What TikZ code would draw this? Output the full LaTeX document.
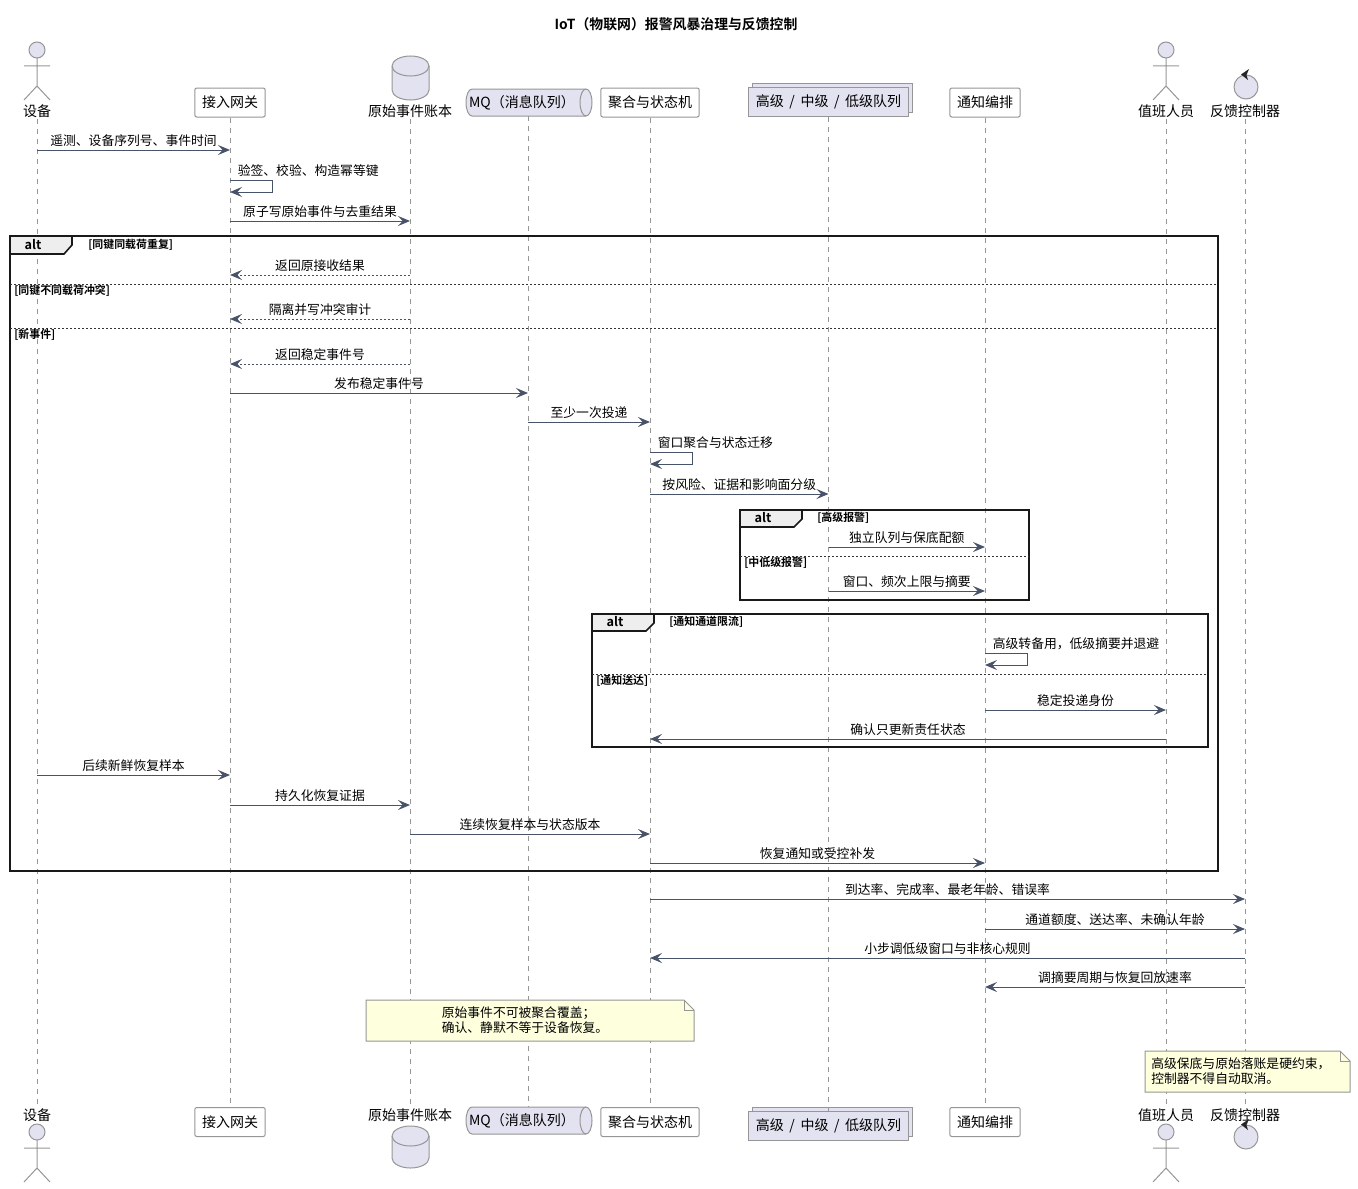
\documentclass[tikz,border=0pt]{standalone}
\usepackage{fontspec}
\setmainfont{Noto Sans CJK SC}[BoldFont={Noto Sans CJK SC Bold}]
\definecolor{partlav}{RGB}{226,226,240}
\definecolor{partline}{RGB}{150,150,150}
\definecolor{lifegray}{RGB}{150,150,150}
\definecolor{msgline}{RGB}{72,82,104}
\definecolor{tabgray}{RGB}{238,238,238}
\definecolor{notefill}{RGB}{254,255,221}
\usepackage{tikz}
\usetikzlibrary{shapes,arrows.meta,positioning,calc,shadows}
\newcommand{\partfont}{\fontsize{10.5}{12}\selectfont}
\newcommand{\msgfont}{\fontsize{9.6}{11.25}\selectfont}
\newcommand{\guardfont}{\bfseries\fontsize{8.2}{10}\selectfont}

\begin{document}
\begin{tikzpicture}[x=0.75pt,y=-0.75pt,
    boxpart/.style={draw=partline,fill=white,rounded corners=1.5pt,line width=0.75pt,
      minimum height=21.75pt,inner xsep=5.4pt,inner ysep=0pt,font=\partfont},
    actlabel/.style={inner sep=1pt,font=\partfont},
    actorst/.style={draw=partline,line width=0.75pt},
    lifelinest/.style={draw=lifegray,line width=0.6pt,dash pattern=on 3.75pt off 3.75pt},
    msg/.style={draw=msgline,line width=0.75pt,-{Stealth[length=9pt,width=7.5pt,inset=3.5pt]}},
    ret/.style={dash pattern=on 1.5pt off 1.5pt},
    lbl/.style={midway,above=1pt,inner sep=1pt,font=\msgfont,text=black},
    slbl/.style={anchor=south west,xshift=4.5pt,yshift=1pt,inner sep=1pt,font=\msgfont,text=black},
    altframe/.style={draw=black!90,line width=1.2pt},
    alttab/.style={draw=black!90,line width=1.2pt,fill=tabgray},
    alttxt/.style={inner sep=0pt,font=\bfseries\fontsize{9.5}{11}\selectfont},
    guard/.style={anchor=west,inner sep=0pt,font=\guardfont},
    altsep/.style={draw=black!80,line width=0.6pt,dash pattern=on 1.5pt off 1.5pt},
    note/.style={draw=partline,fill=notefill,line width=0.75pt},
    notetxt/.style={align=left,inner sep=0pt,font=\msgfont}
]
\useasboundingbox (0,0) rectangle (1358,1188);
\node[font=\bfseries\fontsize{10.4}{12}\selectfont] (title) at (676,24) {IoT（物联网）报警风暴治理与反馈控制};

% participants, top row
\node[actlabel] (devT) at (37,111) {设备};
\node[boxpart] (gwT) at (230,102.5) {接入网关};
\node[actlabel] (ledgerT) at (410,111) {原始事件账本};
\draw[partline,fill=partlav,line width=0.75pt] (392,66) -- (392,90)
  arc[start angle=180,end angle=360,x radius=13.875pt,y radius=7.5pt] -- (429,66)
  arc[start angle=0,end angle=180,x radius=13.875pt,y radius=7.5pt] -- cycle;
\draw[partline,line width=0.75pt] (392,66) arc[start angle=180,end angle=360,x radius=13.875pt,y radius=7.5pt];
\draw[partline,fill=partlav,line width=0.75pt] (472,89) -- (586,89)
  arc[start angle=90,end angle=-90,x radius=4.5pt,y radius=10.125pt] -- (472,116)
  arc[start angle=270,end angle=90,x radius=4.5pt,y radius=10.125pt] -- cycle;
\draw[partline,line width=0.75pt] (586,89) arc[start angle=90,end angle=270,x radius=4.5pt,y radius=10.125pt];
\node[inner sep=0pt,font=\partfont] (mqT) at (522,102.5) {MQ（消息队列）};
\coordinate (mqTl) at (528,116);
\node[boxpart] (aggT) at (650,102.5) {聚合与状态机};
\node[boxpart,fill=partlav,rounded corners=0pt,minimum width=119pt,
  copy shadow={shadow xshift=3pt,shadow yshift=3pt}] (queT) at (828.5,102)
  {高级\hspace{0.4em}/\hspace{0.4em}中级\hspace{0.4em}/\hspace{0.4em}低级队列};
\node[boxpart] (notifT) at (985,102.5) {通知编排};
\node[actlabel] (oncallT) at (1166,111) {值班人员};
\node[actlabel] (ctrlT) at (1245,111) {反馈控制器};

% participants, bottom row
\node[actlabel] (devB) at (37,1115) {设备};
\node[boxpart] (gwB) at (230,1122) {接入网关};
\node[actlabel] (ledgerB) at (410,1115) {原始事件账本};
\draw[partline,fill=partlav,line width=0.75pt] (392,1136) -- (392,1158)
  arc[start angle=180,end angle=360,x radius=13.875pt,y radius=7.5pt] -- (429,1136)
  arc[start angle=0,end angle=180,x radius=13.875pt,y radius=7.5pt] -- cycle;
\draw[partline,line width=0.75pt] (392,1136) arc[start angle=180,end angle=360,x radius=13.875pt,y radius=7.5pt];
\draw[partline,fill=partlav,line width=0.75pt] (472,1107) -- (586,1107)
  arc[start angle=90,end angle=-90,x radius=4.5pt,y radius=10.125pt] -- (472,1134)
  arc[start angle=270,end angle=90,x radius=4.5pt,y radius=10.125pt] -- cycle;
\draw[partline,line width=0.75pt] (586,1107) arc[start angle=90,end angle=270,x radius=4.5pt,y radius=10.125pt];
\node[inner sep=0pt,font=\partfont] (mqB) at (522,1120.5) {MQ（消息队列）};
\coordinate (mqBl) at (528,1107);
\node[boxpart] (aggB) at (650,1122) {聚合与状态机};
\node[boxpart,fill=partlav,rounded corners=0pt,minimum width=119pt,
  copy shadow={shadow xshift=3pt,shadow yshift=3pt}] (queB) at (828.5,1125.5)
  {高级\hspace{0.4em}/\hspace{0.4em}中级\hspace{0.4em}/\hspace{0.4em}低级队列};
\node[boxpart] (notifB) at (985,1122) {通知编排};
\node[actlabel] (oncallB) at (1166,1115) {值班人员};
\node[actlabel] (ctrlB) at (1245,1115) {反馈控制器};

% actors and control
\foreach \x in {37,1166} {
  \draw[actorst,fill=partlav] (\x,50) circle[radius=6pt];
  \draw[actorst] (\x,58) -- (\x,86) (\x-13,66) -- (\x+13,66) (\x-13,100) -- (\x,86) -- (\x+13,100);
  \draw[actorst,fill=partlav] (\x,1132) circle[radius=6pt];
  \draw[actorst] (\x,1140) -- (\x,1168) (\x-13,1148) -- (\x+13,1148) (\x-13,1182) -- (\x,1168) -- (\x+13,1182);
}
\foreach \y in {87,1137} {
  \draw[actorst,fill=partlav] (1246,\y) circle[radius=9pt];
  \fill[black!85] (1241,\y-12.5) -- (1249,\y-18) -- (1246.5,\y-12) -- (1248,\y-7) -- cycle;
}

% lifelines
\foreach \a/\b in {devT/devB,gwT/gwB,ledgerT/ledgerB,aggT/aggB,queT/queB,notifT/notifB,oncallT/oncallB,ctrlT/ctrlB}
  \draw[lifelinest] (\a.south) -- (\b.north);
\draw[lifelinest] (mqTl) -- (mqBl);

% message rows
\foreach \n/\y in {1/150,2/180,3/221,4/275,5/319,6/364,7/393,8/422,9/452,10/494,11/547,12/591,
  13/653,14/710,15/739,16/775,17/805,18/834,19/863,20/899,21/929,22/958,23/987}
  \coordinate (m\n) at (0,\y);

% alt frames
\draw[altframe] (10,236) rectangle (1218,871);
\draw[alttab] (10,236) -- (72,236) -- (72,245) -- (64,254) -- (10,254) -- cycle;
\node[alttxt] (alt1) at (33,245) {alt};
\node[guard] (g1) at (88,245) {[同键同载荷重复]};
\draw[altsep] (10,284) -- (1218,284);
\node[guard] (g2) at (14,291) {[同键不同载荷冲突]};
\draw[altsep] (10,328) -- (1218,328);
\node[guard] (g3) at (14,335) {[新事件]};

\draw[altframe] (740,510) rectangle (1029,600);
\draw[alttab] (740,510) -- (802,510) -- (802,519) -- (794,527) -- (740,527) -- cycle;
\node[alttxt] (alt2) at (763,518) {alt};
\node[guard] (g4) at (817,518) {[高级报警]};
\draw[altsep] (740,556) -- (1029,556);
\node[guard] (g5) at (744,563) {[中低级报警]};

\draw[altframe] (592,614) rectangle (1208,747);
\draw[alttab] (592,614) -- (654,614) -- (654,623) -- (646,631) -- (592,631) -- cycle;
\node[alttxt] (alt3) at (615,622) {alt};
\node[guard] (g6) at (669,622) {[通知通道限流]};
\draw[altsep] (592,674) -- (1208,674);
\node[guard] (g7) at (596,681) {[通知送达]};

% messages
\draw[msg] (devT |- m1) -- (gwT |- m1) node[lbl] {遥测、设备序列号、事件时间};
\draw[msg] (gwT |- m2) node[slbl] {验签、校验、构造幂等键} -- ++(42,0) -- ++(0,12) -- ++(-42,0);
\draw[msg] (gwT |- m3) -- (ledgerT |- m3) node[lbl] {原子写原始事件与去重结果};
\draw[msg,ret] (ledgerT |- m4) -- (gwT |- m4) node[lbl] {返回原接收结果};
\draw[msg,ret] (ledgerT |- m5) -- (gwT |- m5) node[lbl] {隔离并写冲突审计};
\draw[msg,ret] (ledgerT |- m6) -- (gwT |- m6) node[lbl] {返回稳定事件号};
\draw[msg] (gwT |- m7) -- (mqTl |- m7) node[lbl] {发布稳定事件号};
\draw[msg] (mqTl |- m8) -- (aggT |- m8) node[lbl] {至少一次投递};
\draw[msg] (aggT |- m9) node[slbl] {窗口聚合与状态迁移} -- ++(42,0) -- ++(0,12) -- ++(-42,0);
\draw[msg] (aggT |- m10) -- (queT |- m10) node[lbl] {按风险、证据和影响面分级};
\draw[msg] (queT |- m11) -- (notifT |- m11) node[lbl] {独立队列与保底配额};
\draw[msg] (queT |- m12) -- (notifT |- m12) node[lbl] {窗口、频次上限与摘要};
\draw[msg] (notifT |- m13) node[slbl] {高级转备用，低级摘要并退避} -- ++(42,0) -- ++(0,12) -- ++(-42,0);
\draw[msg] (notifT |- m14) -- (oncallT |- m14) node[lbl] {稳定投递身份};
\draw[msg] (oncallT |- m15) -- (aggT |- m15) node[lbl] {确认只更新责任状态};
\draw[msg] (devT |- m16) -- (gwT |- m16) node[lbl] {后续新鲜恢复样本};
\draw[msg] (gwT |- m17) -- (ledgerT |- m17) node[lbl] {持久化恢复证据};
\draw[msg] (ledgerT |- m18) -- (aggT |- m18) node[lbl] {连续恢复样本与状态版本};
\draw[msg] (aggT |- m19) -- (notifT |- m19) node[lbl] {恢复通知或受控补发};
\draw[msg] (aggT |- m20) -- (ctrlT |- m20) node[lbl] {到达率、完成率、最老年龄、错误率};
\draw[msg] (notifT |- m21) -- (ctrlT |- m21) node[lbl] {通道额度、送达率、未确认年龄};
\draw[msg] (ctrlT |- m22) -- (aggT |- m22) node[lbl] {小步调低级窗口与非核心规则};
\draw[msg] (ctrlT |- m23) -- (notifT |- m23) node[lbl] {调摘要周期与恢复回放速率};

% notes
\draw[note] (366,1000) -- (684,1000) -- (694,1010) -- (694,1041) -- (366,1041) -- cycle;
\draw[note,fill=none] (684,1000) -- (684,1010) -- (694,1010);
\node[notetxt] (note1) at (525,1020) {原始事件不可被聚合覆盖；\\确认、静默不等于设备恢复。};
\draw[note] (1145,1051) -- (1340,1051) -- (1350,1061) -- (1350,1092) -- (1145,1092) -- cycle;
\draw[note,fill=none] (1340,1051) -- (1340,1061) -- (1350,1061);
\node[notetxt,anchor=west] (note2) at (1151,1071.5) {高级保底与原始落账是硬约束，\\控制器不得自动取消。};
\end{tikzpicture}
\end{document}
